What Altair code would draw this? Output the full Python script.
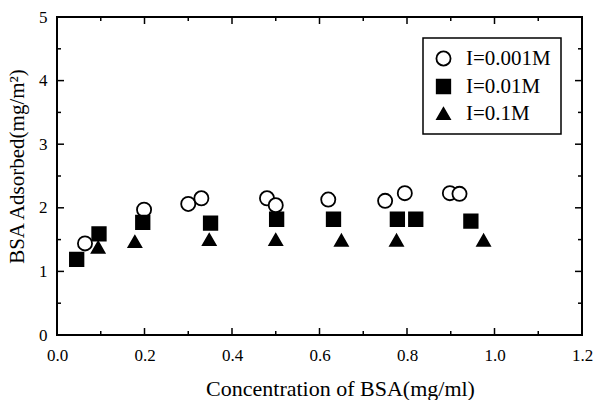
import altair as alt
import pandas as pd

series = ["I=0.001M", "I=0.01M", "I=0.1M"]

c_x = [0.064, 0.199, 0.30, 0.33, 0.48, 0.50, 0.62, 0.75, 0.795, 0.898, 0.92]
c_y = [1.44, 1.97, 2.06, 2.15, 2.15, 2.04, 2.13, 2.11, 2.23, 2.23, 2.22]
s_x = [0.045, 0.096, 0.196, 0.351, 0.502, 0.632, 0.778, 0.82, 0.946]
s_y = [1.19, 1.59, 1.77, 1.76, 1.82, 1.82, 1.82, 1.82, 1.79]
t_x = [0.094, 0.178, 0.348, 0.50, 0.65, 0.776, 0.975]
t_y = [1.38, 1.47, 1.50, 1.50, 1.49, 1.49, 1.49]

x_major = [0.0, 0.2, 0.4, 0.6, 0.8, 1.0, 1.2]
x_minor = [0.1, 0.3, 0.5, 0.7, 0.9, 1.1]
y_major = [0, 1, 2, 3, 4, 5]
y_minor = [0.5, 1.5, 2.5, 3.5, 4.5]

W, H = 525, 318
FONT = "Liberation Serif"

rows = []
for name, xs, ys in [(series[0], c_x, c_y), (series[1], s_x, s_y), (series[2], t_x, t_y)]:
    for a, b in zip(xs, ys):
        rows.append({"conc": a, "ads": b, "series": name})
df = pd.DataFrame(rows)

xscale = alt.Scale(domain=[0, 1.2], nice=False, zero=False)
yscale = alt.Scale(domain=[0, 5], nice=False, zero=False)

points = alt.Chart(df).mark_point(
    strokeWidth=1.8, opacity=1, fillOpacity=1
).encode(
    x=alt.X("conc:Q", scale=xscale, axis=alt.Axis(
        values=x_major, format=".1f", ticks=False, grid=False, domain=False,
        labelFlush=False,
        labelFont=FONT, labelFontSize=17, labelColor="black", labelPadding=12,
        title="Concentration of BSA(mg/ml)", titleFont=FONT, titleFontSize=22,
        titleFontWeight="normal", titleColor="black", titleX=283, titleY=60,
        titleAlign="center", titleBaseline="alphabetic")),
    y=alt.Y("ads:Q", scale=yscale, axis=alt.Axis(
        values=y_major, format="d", ticks=False, grid=False, domain=False,
        labelFlush=False,
        labelFont=FONT, labelFontSize=17, labelColor="black", labelPadding=10,
        title="BSA Adsorbed(mg/m²)", titleFont=FONT, titleFontSize=21,
        titleFontWeight="normal", titleColor="black", titleX=-40, titleY=149,
        titleAngle=270, titleAlign="center", titleBaseline="middle")),
    shape=alt.Shape("series:N", scale=alt.Scale(domain=series, range=["circle", "square", "triangle-up"]), title=None),
    fill=alt.Fill("series:N", scale=alt.Scale(domain=series, range=["white", "black", "black"]), title=None),
    stroke=alt.Stroke("series:N", scale=alt.Scale(domain=series, range=["black", "black", "black"]), title=None),
    size=alt.Size("series:N", scale=alt.Scale(domain=series, range=[200, 165, 350]), title=None),
)

xt_major = pd.DataFrame({"v": x_major})
xt_minor = pd.DataFrame({"v": x_minor})
yt_major = pd.DataFrame({"v": y_major})
yt_minor = pd.DataFrame({"v": y_minor})

def xticks(d, length):
    bottom = alt.Chart(d).mark_rule(color="black", strokeWidth=1.5).encode(
        x=alt.X("v:Q", scale=xscale), y=alt.value(H), y2=alt.value(H - length))
    top = alt.Chart(d).mark_rule(color="black", strokeWidth=1.5).encode(
        x=alt.X("v:Q", scale=xscale), y=alt.value(0), y2=alt.value(length))
    return [bottom, top]

def yticks(d, length):
    left = alt.Chart(d).mark_rule(color="black", strokeWidth=1.5).encode(
        y=alt.Y("v:Q", scale=yscale), x=alt.value(0), x2=alt.value(length))
    right = alt.Chart(d).mark_rule(color="black", strokeWidth=1.5).encode(
        y=alt.Y("v:Q", scale=yscale), x=alt.value(W), x2=alt.value(W - length))
    return [left, right]

layers = xticks(xt_major, 7) + xticks(xt_minor, 4) + yticks(yt_major, 7) + yticks(yt_minor, 4) + [points]

chart = alt.layer(*layers).properties(
    width=W, height=H,
    autosize=alt.AutoSizeParams(type="none"),
    padding={"left": 57, "top": 17, "right": 11, "bottom": 65},
    background="white",
).configure_view(
    stroke="black", strokeWidth=2
).configure_legend(
    orient="none", legendX=366, legendY=21,
    strokeColor="black", strokeWidth=1.5, fillColor="white", padding=10,
    labelFont=FONT, labelFontSize=21, labelColor="black", labelOffset=12,
    symbolStrokeWidth=1.8, symbolOpacity=1,
    rowPadding=5, cornerRadius=0,
)

chart.save("out.html", embed_options={"renderer": "svg", "actions": False})
